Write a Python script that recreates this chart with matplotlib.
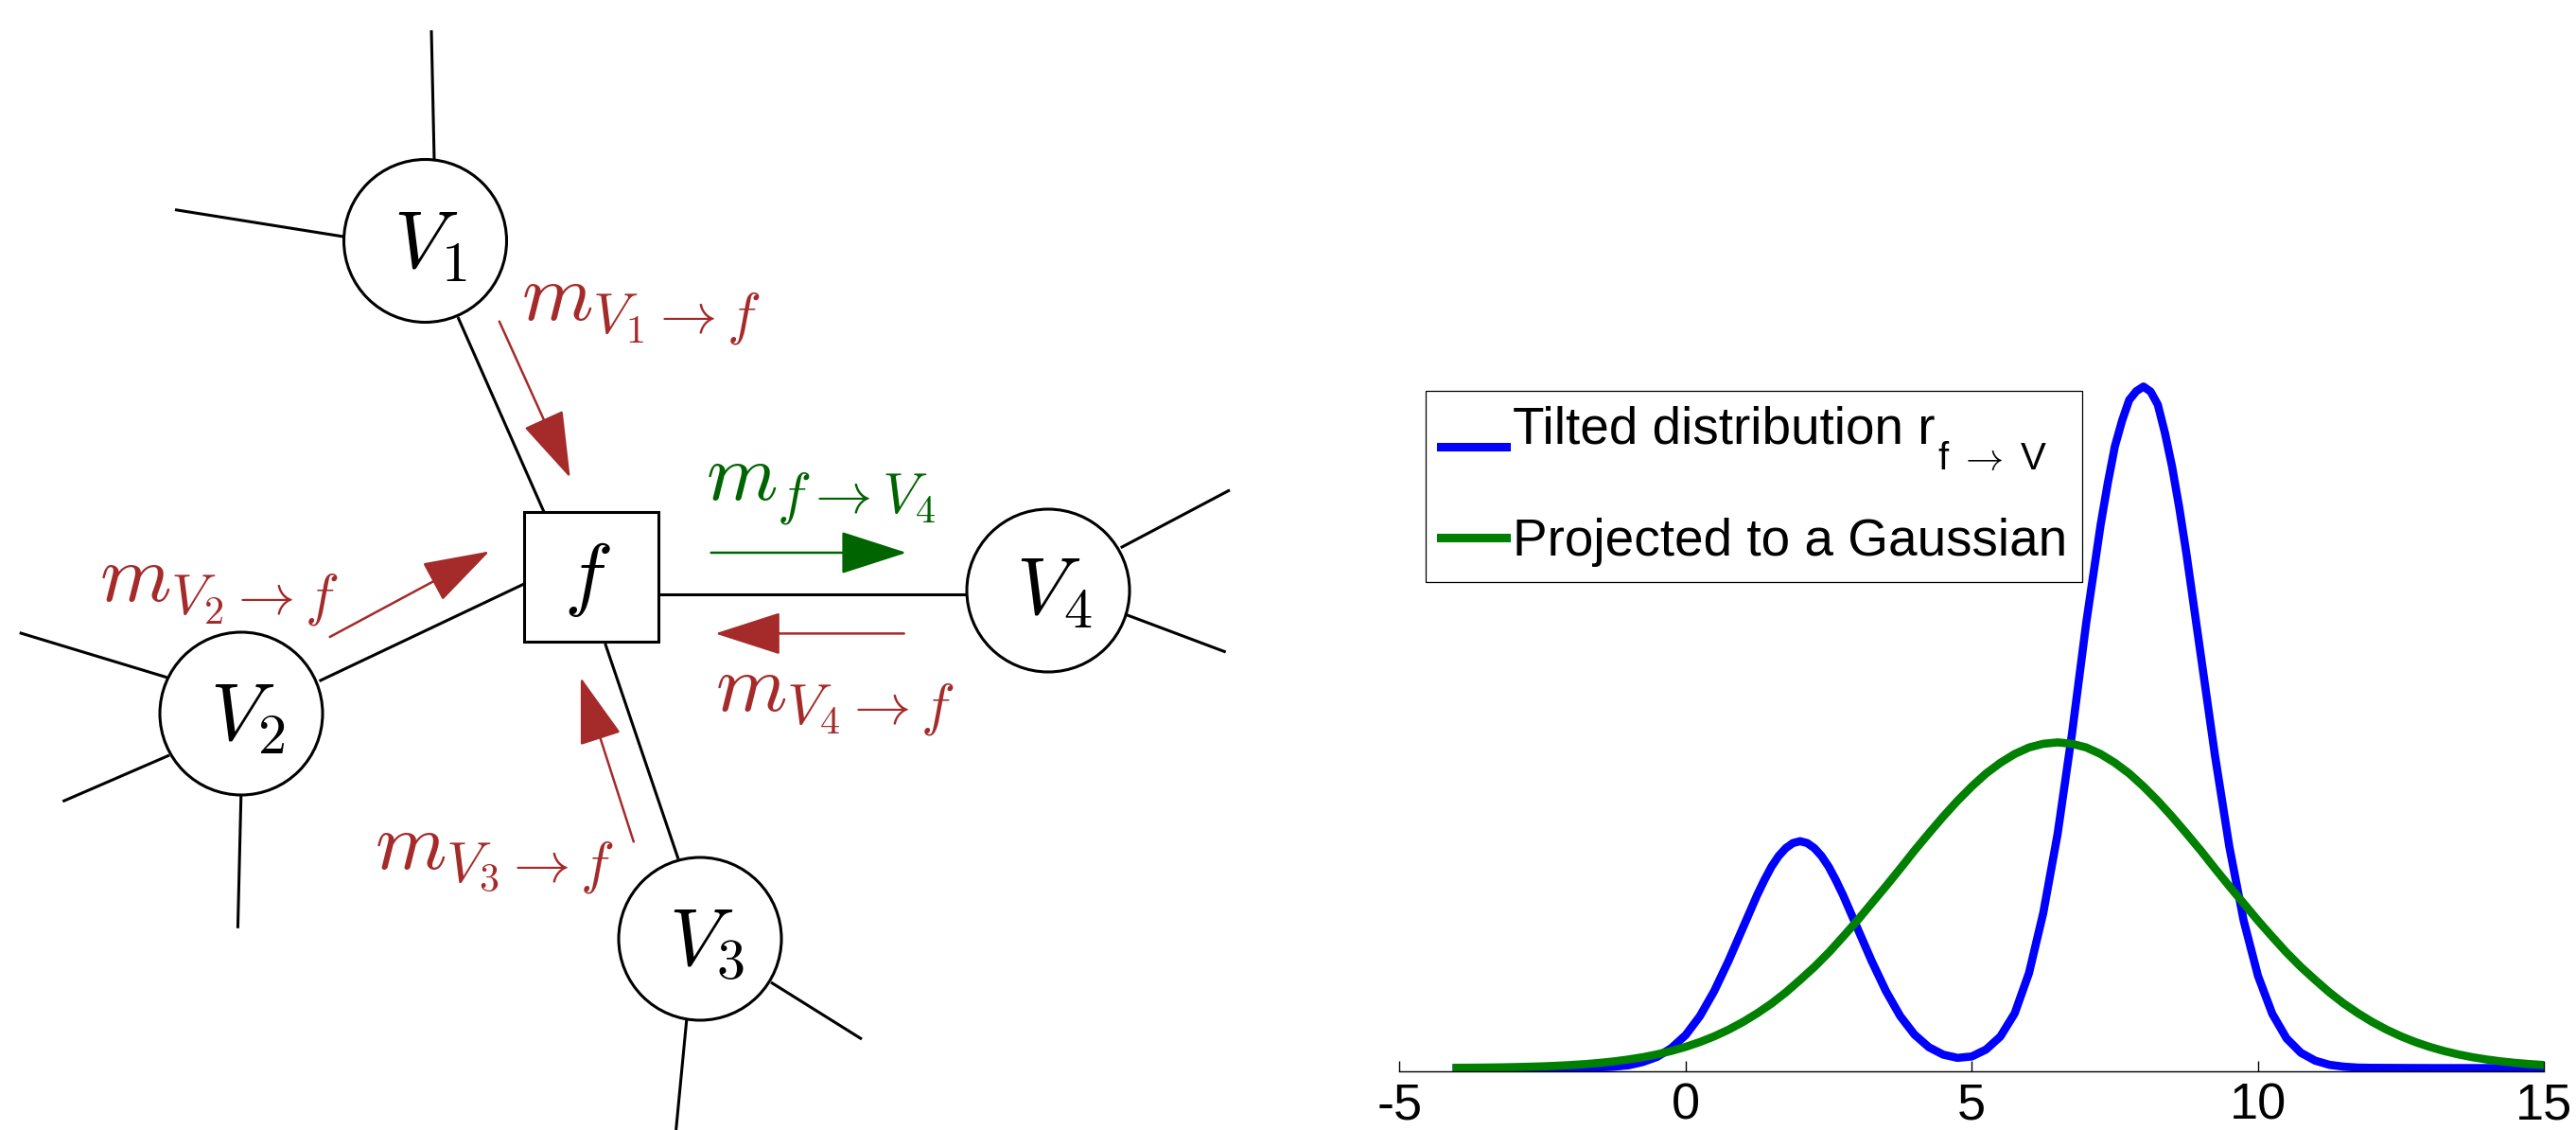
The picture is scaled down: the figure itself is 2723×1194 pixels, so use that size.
import matplotlib
matplotlib.use("Agg")
import matplotlib.pyplot as plt
from matplotlib.patches import Circle, Rectangle, FancyArrowPatch
from matplotlib.font_manager import FontProperties

plt.rcParams['font.family'] = ['Liberation Sans', 'DejaVu Sans']
plt.rcParams['mathtext.fontset'] = 'cm'
plt.rcParams['axes.unicode_minus'] = False

# ---- curve data (arbitrary height units) ----
tilted_x = [-4.0, -3.5, -3.0, -2.5, -2.25, -2.0, -1.75, -1.5, -1.25, -1.0,
            -0.75, -0.5, -0.25, 0.0, 0.25, 0.5, 0.75, 1.0, 1.25, 1.375,
            1.5, 1.625, 1.75, 1.875, 2.0, 2.125, 2.25, 2.375, 2.5, 2.625,
            2.75, 3.0, 3.25, 3.5, 3.75, 4.0, 4.25, 4.5, 4.75, 5.0,
            5.25, 5.5, 5.75, 6.0, 6.25, 6.5, 6.75, 7.0, 7.25, 7.375,
            7.5, 7.625, 7.75, 7.875, 8.0, 8.125, 8.25, 8.375, 8.5, 8.625,
            8.75, 9.0, 9.25, 9.5, 9.75, 10.0, 10.25, 10.5, 10.75, 11.0,
            11.25, 11.5, 11.75, 12.0, 13.0, 14.0, 15.0]
tilted = [0, 0, 0, 0, 0.1, 0.2, 0.6, 1.4, 3, 6,
          13, 24, 43, 71, 112, 166, 231, 302, 373, 405,
          434, 457, 474, 485, 489, 485, 474, 457, 434, 405,
          373, 302, 231, 166, 112, 72, 45, 29, 22, 25,
          40, 68, 118, 205, 335, 505, 720, 960, 1170, 1260,
          1340, 1395, 1440, 1459, 1469, 1458, 1430, 1369, 1296, 1208,
          1109, 891, 673, 477, 318, 199, 117, 64, 33, 16,
          7, 3, 1, 0.5, 0, 0, 0]
gauss_x = [-4.0, -3.75, -3.5, -3.25, -3.0, -2.75, -2.5, -2.25, -2.0, -1.75,
           -1.5, -1.25, -1.0, -0.75, -0.5, -0.25, 0.0, 0.25, 0.5, 0.75,
           1.0, 1.25, 1.5, 1.75, 2.0, 2.25, 2.5, 2.75, 3.0, 3.25,
           3.5, 3.75, 4.0, 4.25, 4.5, 4.75, 5.0, 5.25, 5.5, 5.75,
           6.0, 6.25, 6.5, 6.75, 7.0, 7.25, 7.5, 7.75, 8.0, 8.25,
           8.5, 8.75, 9.0, 9.25, 9.5, 9.75, 10.0, 10.25, 10.5, 10.75,
           11.0, 11.25, 11.5, 11.75, 12.0, 12.25, 12.5, 12.75, 13.0, 13.25,
           13.5, 13.75, 14.0, 14.25, 14.5, 14.75, 15.0]
gauss = [0.6, 0.8, 1.1, 1.5, 2.1, 2.8, 3.7, 5.0, 6.6, 8.6,
         11.2, 14.4, 18.5, 23.4, 29.5, 36.9, 45.7, 56.1, 68.4, 82.7,
         99.2, 118, 139, 163, 190, 218, 249, 283, 318, 355,
         392, 430, 469, 506, 542, 576, 607, 635, 658, 677,
         691, 699, 702, 699, 691, 677, 658, 635, 607, 576,
         542, 506, 469, 430, 392, 355, 318, 283, 249, 218,
         190, 163, 139, 118, 99.2, 82.7, 68.4, 56.1, 45.7, 36.9,
         29.5, 23.4, 18.5, 14.4, 11.2, 8.6, 6.6]
x_ticks = [-5, 0, 5, 10, 15]
legend_labels = ['Tilted distribution r', 'Projected to a Gaussian']
legend_sub = r'f $\rightarrow$ V'

# ---- factor graph layout (pixel coordinates of the picture) ----
var_names = [r'$V_1$', r'$V_2$', r'$V_3$', r'$V_4$']
var_centers = [(449.5, 254.5), (255, 754), (740, 992), (1108, 624)]
var_label_pos = [(455, 261.5), (261.8, 760), (747, 998.5), (1114, 627)]
factor_box = (554, 541, 142, 137)
factor_label_pos = (621, 612.6)
edges = [
    ((484, 335), (575, 541)),
    ((337.5, 719.6), (554, 617)),
    ((639.7, 680), (717, 907.7)),
    ((696, 627.5), (1022, 627.5)),
    ((459, 169), (456, 32)),
    ((363, 250), (185, 221.6)),
    ((176.5, 715.8), (20.7, 668.6)),
    ((179, 798), (66.3, 846.8)),
    ((254.8, 840), (251.4, 980.8)),
    ((815, 1038), (911, 1098)),
    ((725.8, 1077.5), (714.6, 1194)),
    ((1184.7, 578.7), (1300, 517.8)),
    ((1190.7, 649.6), (1295.7, 689)),
]
red = '#A52A2A'
green = '#006400'
messages = [
    (r'$m_{V_1\rightarrow f}$', (551, 339), (527.8, 339.6), (602.7, 504.9), red),
    (r'$m_{V_2\rightarrow f}$', (105, 636), (348.7, 673), (517.4, 582.5), red),
    (r'$m_{V_3\rightarrow f}$', (396, 919), (669.8, 889.4), (613.9, 715.8), red),
    (r'$m_{V_4\rightarrow f}$', (756, 751.6), (955.7, 669.4), (756, 669.4), red),
    (r'$m_{f\rightarrow V_4}$', (745.6, 529), (751.6, 584), (958.2, 584), green),
]

W, H = 2723, 1194
fig = plt.figure(figsize=(W / 100, H / 100), dpi=100)

# left: factor graph drawn in pixel coordinates
ax0 = fig.add_axes([0, 0, 1, 1])
ax0.set_xlim(0, W)
ax0.set_ylim(H, 0)
ax0.axis('off')

for p, q in edges:
    ax0.plot([p[0], q[0]], [p[1], q[1]], color='black', lw=2.2, zorder=1,
             solid_capstyle='butt')

for c in var_centers:
    ax0.add_patch(Circle(c, 86, facecolor='white', edgecolor='black', lw=2.2, zorder=2))
ax0.add_patch(Rectangle(factor_box[:2], factor_box[2], factor_box[3],
                        facecolor='white', edgecolor='black', lw=2.2, zorder=2))

for name, pos in zip(var_names, var_label_pos):
    ax0.text(pos[0], pos[1], name, fontsize=62, ha='center', va='center', zorder=3)
ax0.text(factor_label_pos[0], factor_label_pos[1], r'$f$', fontsize=62,
         ha='center', va='center', zorder=3)

for label, lpos, tail, tip, col in messages:
    ax0.text(lpos[0], lpos[1], label, fontsize=62, color=col,
             ha='left', va='baseline', zorder=3)
    arr = FancyArrowPatch(tail, tip, arrowstyle='-|>,head_length=45,head_width=14.5',
                          mutation_scale=1, color=col, lw=1.8,
                          shrinkA=0, shrinkB=0, zorder=3)
    ax0.add_patch(arr)

# right: tilted distribution vs. gaussian projection
ax_l, ax_r, ax_b, ax_t = 1479.3, 2689.3, 1132, 380
ax = fig.add_axes([ax_l / W, (H - ax_b) / H, (ax_r - ax_l) / W, (ax_b - ax_t) / H])
ax.patch.set_alpha(0)
ax.plot(tilted_x, tilted, color='#0000FF', lw=6.2, solid_joinstyle='round',
        label=legend_labels[0])
ax.plot(gauss_x, gauss, color='#008000', lw=6.2, solid_joinstyle='round',
        label=legend_labels[1])
ax.set_xlim(-5, 15)
ax.set_ylim(-7, 1527)
ax.set_xticks(x_ticks)
ax.set_yticks([])
for s in ['left', 'right', 'top']:
    ax.spines[s].set_visible(False)
ax.spines['bottom'].set_linewidth(1.0)
ax.tick_params(axis='x', direction='in', length=8, width=1.0, pad=8, labelsize=39)

leg = ax.legend(loc='upper left', bbox_to_anchor=((1507 - ax_l) / (ax_r - ax_l),
                                                  (ax_b - 413) / (ax_b - ax_t)),
                borderaxespad=0, prop=FontProperties(family='Liberation Sans', size=39.5),
                fancybox=False, framealpha=1, edgecolor='black',
                handlelength=1.26, handletextpad=0.13, borderpad=0.29,
                labelspacing=1.2)
leg.get_frame().set_linewidth(0.9)
for line in leg.get_lines():
    line.set_linewidth(6.5)
# MATLAB centres the first handle on text + subscript, so it sits lower
first = leg.get_lines()[0]
first.set_ydata([v - 16 for v in first.get_ydata()])

# lowered subscript of r
ax.annotate(legend_sub, xy=(1, 0), xycoords=leg.get_texts()[0],
            xytext=(1.5, -11), textcoords='offset points',
            ha='left', va='baseline', fontsize=29,
            family=['Liberation Sans', 'DejaVu Sans'], zorder=7)

fig.savefig('out.png', dpi=100)
